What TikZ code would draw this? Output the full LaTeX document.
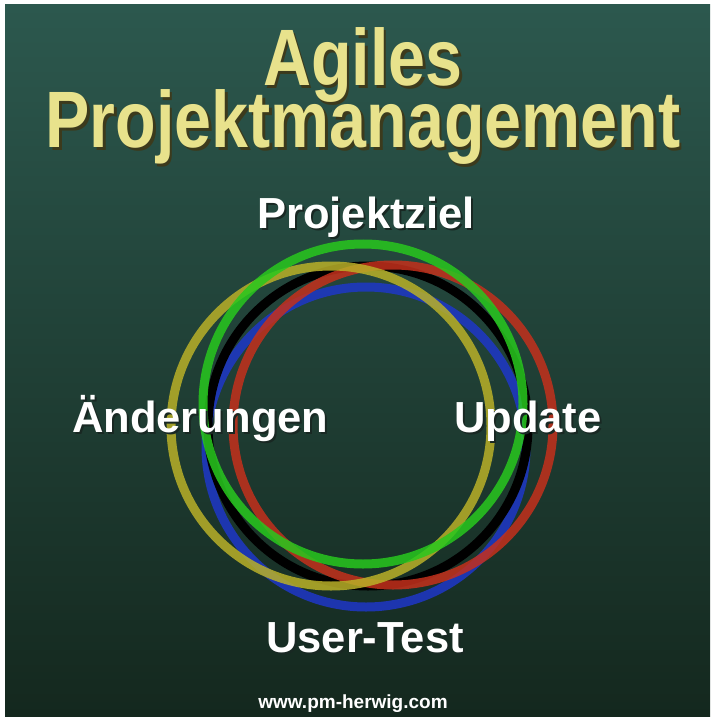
\documentclass[tikz,border=0pt]{standalone}
\usepackage{fontspec}
\setmainfont{Liberation Sans}
\usetikzlibrary{positioning}
\definecolor{bgtop}{RGB}{44,88,78}
\definecolor{bgbot}{RGB}{20,40,30}
\definecolor{titlegold}{RGB}{232,226,140}
\definecolor{titleshade}{RGB}{60,58,28}
\definecolor{labelshade}{RGB}{25,40,35}
\definecolor{ringgreen}{RGB}{40,200,30}
\definecolor{ringyellow}{RGB}{185,176,40}
\definecolor{ringred}{RGB}{196,48,28}
\definecolor{ringblue}{RGB}{30,55,200}
% text with a drop shadow: offset, shadow colour, text
\newcommand{\dropshadow}[3]{\makebox[0pt][l]{\kern#1\raisebox{-#1}{\textcolor{#2}{#3}}}#3}
\tikzset{
  title/.style={font=\fontsize{80}{80}\selectfont\bfseries, text=titlegold, anchor=base, inner sep=0pt},
  label/.style={font=\fontsize{43.5}{43.5}\selectfont\bfseries, text=white, anchor=base, inner sep=0pt},
  ring/.style={line width=9pt}
}
\begin{document}
\begin{tikzpicture}[x=1pt,y=-1pt]
\fill[white] (0,0) rectangle (714,719);
\shade[top color=bgtop, bottom color=bgbot] (5,5) rectangle (710,716);
\useasboundingbox (0,0) rectangle (714,719);
% title
\node[title] (agiles) at (363,86) {\scalebox{0.83}[1]{\dropshadow{3pt}{titleshade}{Agiles}}};
\node[title] (projekt) at (363,148) {\scalebox{0.83}[1]{\dropshadow{3pt}{titleshade}{Projektmanagement}}};
% rings
\foreach \c/\x/\y/\o in {ringblue/366/447/0.85, black/368/426/1, ringred/393/425/0.85, ringyellow/331/426/0.85, ringgreen/363/404/0.85}
  \draw[ring, \c, draw opacity=\o] (\x,\y) circle [radius=160pt];
% labels
\node[label] (ziel) at (366,228) {\dropshadow{2pt}{labelshade}{Projektziel}};
\node[label, anchor=base west] (aenderungen) at (72,432) {\dropshadow{2pt}{labelshade}{Änderungen}};
\node[label, anchor=base west] (update) at (454,432) {\dropshadow{2pt}{labelshade}{Update}};
\node[label] (usertest) at (365,652) {\dropshadow{2pt}{labelshade}{User-Test}};
\node[label, font=\fontsize{19}{19}\selectfont\bfseries] (web) at (353,708) {www.pm-herwig.com};
\end{tikzpicture}
\end{document}
